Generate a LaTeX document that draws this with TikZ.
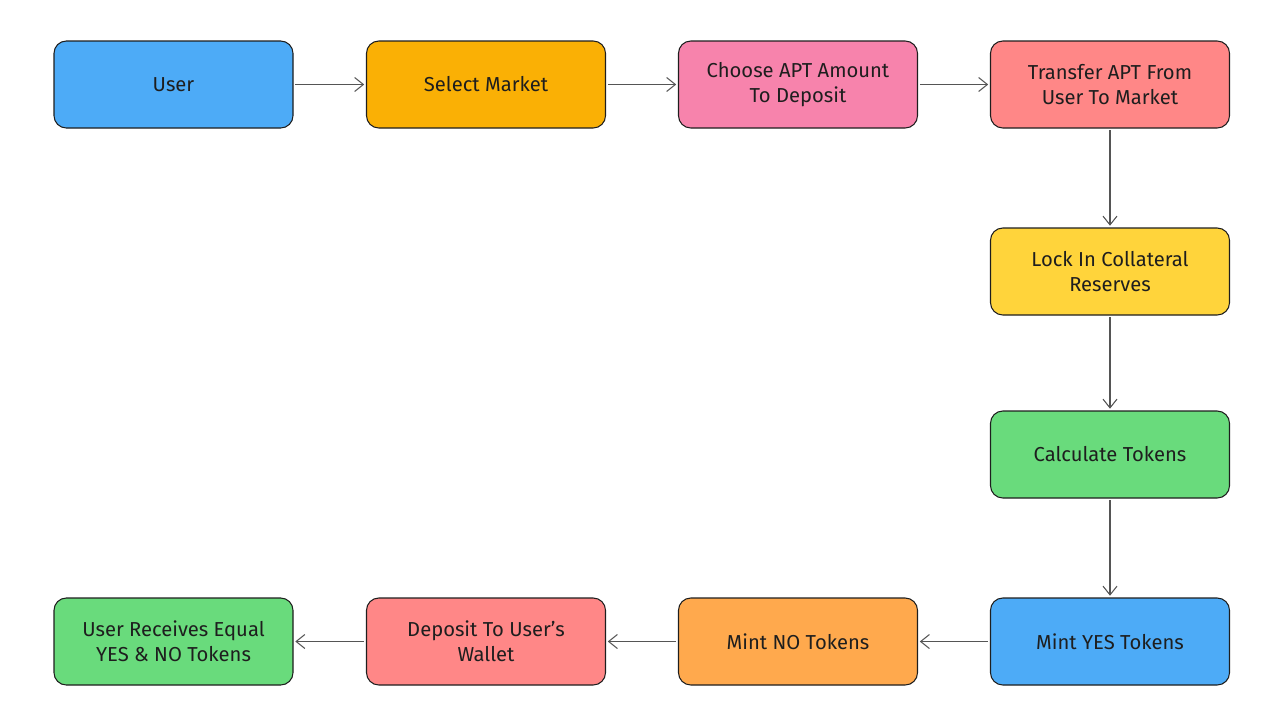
\documentclass[tikz,border=0pt]{standalone}
\usepackage{fontspec}
\setmainfont{Fira Sans}
\usetikzlibrary{arrows.meta}
\definecolor{cblue}{HTML}{4DABF7}
\definecolor{camber}{HTML}{FAB005}
\definecolor{cpink}{HTML}{F783AC}
\definecolor{csalmon}{HTML}{FF8787}
\definecolor{cyellow}{HTML}{FFD43B}
\definecolor{cgreen}{HTML}{69DB7C}
\definecolor{corange}{HTML}{FFA94D}
\definecolor{cstroke}{HTML}{1E1E1E}
\definecolor{carrow}{HTML}{555555}
\tikzset{
  box/.style={draw=cstroke, line width=0.6pt, rounded corners=7pt,
    minimum width=239*0.02cm, minimum height=87*0.02cm, align=center,
    font=\fontsize{11.5}{14}\selectfont, text=cstroke, inner sep=2pt},
  conn/.style={draw=carrow, line width=0.6pt, -{Straight Barb[length=5pt,width=8pt]}, shorten <=1pt, shorten >=1pt}
}
\begin{document}
\begin{tikzpicture}[x=0.02cm,y=-0.02cm]
\useasboundingbox (0,0) rectangle (1280,727);
\node[box, fill=cblue]   (user)   at (173.5,84.5) {User};
\node[box, fill=camber]  (select) at (486,84.5) {Select Market};
\node[box, fill=cpink]   (choose) at (798,84.5) {Choose APT Amount\\To Deposit};
\node[box, fill=csalmon] (trans)  at (1110,84.5) {Transfer APT From\\User To Market};
\node[box, fill=cyellow] (lock)   at (1110,271.5) {Lock In Collateral\\Reserves};
\node[box, fill=cgreen]  (calc)   at (1110,454.5) {Calculate Tokens};
\node[box, fill=cblue]   (yes)    at (1110,641.5) {Mint YES Tokens};
\node[box, fill=corange] (no)     at (798,641.5) {Mint NO Tokens};
\node[box, fill=csalmon] (dep)    at (486,641.5) {Deposit To User's\\Wallet};
\node[box, fill=cgreen]  (recv)   at (173.5,641.5) {User Receives Equal\\YES \& NO Tokens};
\draw[conn] (user) -- (select);
\draw[conn] (select) -- (choose);
\draw[conn] (choose) -- (trans);
\draw[conn] (trans) -- (lock);
\draw[conn] (lock) -- (calc);
\draw[conn] (calc) -- (yes);
\draw[conn] (yes) -- (no);
\draw[conn] (no) -- (dep);
\draw[conn] (dep) -- (recv);
\end{tikzpicture}
\end{document}
